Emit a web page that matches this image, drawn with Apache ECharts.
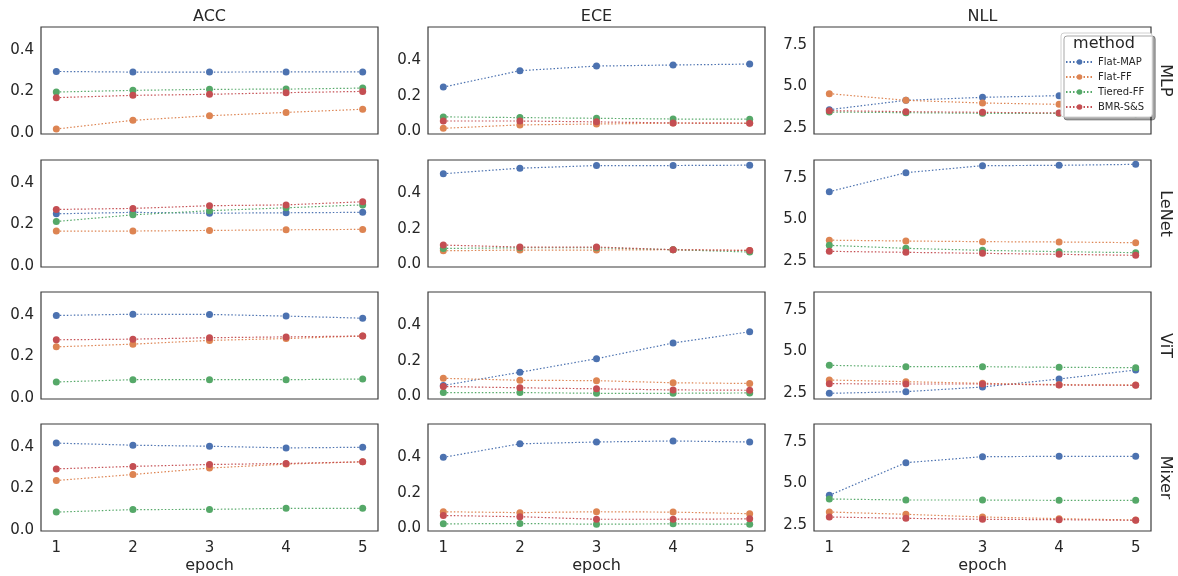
<!DOCTYPE html>
<html>
<head>
<meta charset="utf-8">
<script src="https://cdn.jsdelivr.net/npm/echarts@6/dist/echarts.min.js"></script>
<style>
html,body{margin:0;padding:0;background:#fff;}
#chart{width:1178px;height:576px;}
</style>
</head>
<body>
<div id="chart"></div>
<script>
// ---------------- data ----------------
const epochs = [1, 2, 3, 4, 5];
const methods = ['Flat-MAP', 'Flat-FF', 'Tiered-FF', 'BMR-S&S'];
const models = ['MLP', 'LeNet', 'ViT', 'Mixer'];
const metrics = ['ACC', 'ECE', 'NLL'];
const xTickLabels = [1, 2, 3, 4, 5];
const accTicks = [0.0, 0.2, 0.4];
const eceTicks = [0.0, 0.2, 0.4];
const nllTicks = [2.5, 5.0, 7.5];

// each panel: rows follow `methods` order, columns follow `epochs`
const MLP_ACC = [
  [0.296, 0.293, 0.293, 0.294, 0.294],
  [0.019, 0.061, 0.083, 0.099, 0.114],
  [0.197, 0.205, 0.210, 0.211, 0.216],
  [0.170, 0.181, 0.186, 0.194, 0.200]];
const MLP_ECE = [
  [0.248, 0.340, 0.366, 0.372, 0.377],
  [0.017, 0.036, 0.041, 0.046, 0.046],
  [0.081, 0.077, 0.073, 0.069, 0.068],
  [0.058, 0.058, 0.053, 0.047, 0.045]];
const MLP_NLL = [
  [3.60, 4.16, 4.34, 4.44, 4.50],
  [4.56, 4.16, 4.00, 3.92, 3.88],
  [3.46, 3.42, 3.38, 3.38, 3.36],
  [3.54, 3.48, 3.44, 3.40, 3.38]];
const LeNet_ACC = [
  [0.251, 0.258, 0.254, 0.256, 0.258],
  [0.168, 0.168, 0.171, 0.174, 0.176],
  [0.214, 0.246, 0.266, 0.280, 0.294],
  [0.272, 0.277, 0.290, 0.294, 0.309]];
const LeNet_ECE = [
  [0.508, 0.539, 0.554, 0.554, 0.556],
  [0.076, 0.080, 0.080, 0.082, 0.078],
  [0.089, 0.093, 0.093, 0.082, 0.069],
  [0.108, 0.097, 0.097, 0.082, 0.078]];
const LeNet_NLL = [
  [6.66, 7.80, 8.22, 8.24, 8.30],
  [3.75, 3.70, 3.66, 3.64, 3.60],
  [3.44, 3.26, 3.14, 3.06, 3.00],
  [3.08, 3.02, 2.96, 2.90, 2.84]];
const ViT_ACC = [
  [0.397, 0.403, 0.402, 0.394, 0.384],
  [0.246, 0.259, 0.277, 0.286, 0.298],
  [0.077, 0.088, 0.088, 0.088, 0.091],
  [0.280, 0.283, 0.290, 0.294, 0.298]];
const ViT_ECE = [
  [0.061, 0.135, 0.211, 0.299, 0.362],
  [0.101, 0.090, 0.088, 0.076, 0.072],
  [0.021, 0.021, 0.017, 0.017, 0.019],
  [0.055, 0.048, 0.042, 0.036, 0.034]];
const ViT_NLL = [
  [2.48, 2.58, 2.86, 3.34, 3.88],
  [3.28, 3.18, 3.08, 3.00, 2.98],
  [4.16, 4.08, 4.08, 4.04, 4.02],
  [3.06, 3.04, 3.04, 2.98, 2.96]];
const Mixer_ACC = [
  [0.418, 0.408, 0.403, 0.395, 0.398],
  [0.238, 0.267, 0.298, 0.317, 0.328],
  [0.086, 0.098, 0.099, 0.104, 0.104],
  [0.294, 0.306, 0.315, 0.320, 0.328]];
const Mixer_ECE = [
  [0.398, 0.474, 0.484, 0.490, 0.484],
  [0.093, 0.088, 0.093, 0.091, 0.082],
  [0.025, 0.027, 0.023, 0.025, 0.023],
  [0.072, 0.065, 0.051, 0.051, 0.053]];
const Mixer_NLL = [
  [4.28, 6.24, 6.60, 6.62, 6.62],
  [3.28, 3.14, 2.98, 2.88, 2.80],
  [4.06, 4.00, 4.00, 3.98, 3.98],
  [2.98, 2.90, 2.84, 2.82, 2.78]];

// ---------------- layout / style ----------------
const panels = [
  [MLP_ACC, MLP_ECE, MLP_NLL],
  [LeNet_ACC, LeNet_ECE, LeNet_NLL],
  [ViT_ACC, ViT_ECE, ViT_NLL],
  [Mixer_ACC, Mixer_ECE, Mixer_NLL]];
const tickSets = [accTicks, eceTicks, nllTicks];
// [min, max, fine interval] per metric column (matplotlib auto-margins)
const yScale = [[-0.005, 0.51, 0.005], [-0.015, 0.585, 0.005], [2.14, 8.56, 0.02]];
const colors = ['#4C72B0', '#DD8452', '#55A868', '#C44E52'];
const colLeft = [41, 428, 814];
const rowTop = [27, 160, 292, 424];
const W = 337, H = 107;
const FONT = 'DejaVu Sans';
const TXT = '#262626';

function near(v, list) {
  for (const t of list) if (Math.abs(v - t) < 1e-6) return true;
  return false;
}

const grid = [], xAxis = [], yAxis = [], series = [], title = [], graphic = [];
for (let r = 0; r < models.length; r++) {
  for (let c = 0; c < metrics.length; c++) {
    const idx = r * metrics.length + c;
    grid.push({
      left: colLeft[c], top: rowTop[r], width: W, height: H,
      show: true, borderColor: '#3b3b3b', borderWidth: 1.2, backgroundColor: '#fff'
    });
    const bottomRow = r === models.length - 1;
    xAxis.push({
      type: 'value', gridIndex: idx, min: 0.8, max: 5.2, interval: 0.2,
      axisLine: {show: false}, axisTick: {show: false}, splitLine: {show: false},
      axisLabel: {
        show: bottomRow, color: TXT, fontFamily: FONT, fontSize: 15, margin: 10,
        formatter: v => near(v, xTickLabels) ? String(Math.round(v)) : ''
      },
      name: bottomRow ? 'epoch' : '', nameLocation: 'middle', nameGap: 27,
      nameTextStyle: {color: TXT, fontFamily: FONT, fontSize: 16}
    });
    const ys = yScale[c];
    const ticks = tickSets[c];
    yAxis.push({
      type: 'value', gridIndex: idx, min: ys[0], max: ys[1], interval: ys[2],
      axisLine: {show: false}, axisTick: {show: false}, splitLine: {show: false},
      axisLabel: {
        color: TXT, fontFamily: FONT, fontSize: 15, margin: 7,
        formatter: v => near(v, ticks) ? v.toFixed(1) : ''
      }
    });
    const pdata = panels[r][c];
    for (let m = 0; m < methods.length; m++) {
      series.push({
        type: 'line', name: methods[m], xAxisIndex: idx, yAxisIndex: idx,
        data: epochs.map((e, i) => [e, pdata[m][i]]),
        symbol: 'circle', symbolSize: 7, showSymbol: true,
        itemStyle: {color: colors[m]},
        lineStyle: {color: colors[m], width: 1.2, type: [1.5, 2]},
        emphasis: {disabled: true}, silent: true, animation: false
      });
    }
  }
}

metrics.forEach((mt, c) => {
  title.push({
    text: mt, left: colLeft[c] + W / 2, top: 9, textAlign: 'center', padding: 0,
    textStyle: {color: TXT, fontFamily: FONT, fontSize: 16, fontWeight: 'normal'}
  });
});

models.forEach((md, r) => {
  graphic.push({
    type: 'text', x: 1165, y: rowTop[r] + H / 2, rotation: -Math.PI / 2,
    style: {text: md, fill: TXT, font: '16px "DejaVu Sans"', align: 'center', verticalAlign: 'middle'},
    z: 100
  });
});
graphic.push({
  type: 'text', x: 1104, y: 44, z: 200, zlevel: 0,
  style: {text: 'method', fill: TXT, font: '16px "DejaVu Sans"', align: 'center', verticalAlign: 'middle'}
});

const option = {
  animation: false,
  backgroundColor: '#fff',
  title: title,
  grid: grid,
  xAxis: xAxis,
  yAxis: yAxis,
  series: series,
  legend: {
    data: methods, orient: 'vertical', left: 1061, top: 33,
    padding: [24, 8, 5, 4], itemWidth: 27, itemHeight: 7, itemGap: 5,
    selectedMode: false, z: 50,
    backgroundColor: '#fff', borderColor: '#d0d0d0', borderWidth: 1, borderRadius: 3,
    shadowColor: 'rgba(0,0,0,0.35)', shadowOffsetX: 3, shadowOffsetY: 3, shadowBlur: 0,
    textStyle: {color: TXT, fontFamily: FONT, fontSize: 10, lineHeight: 10}
  },
  graphic: graphic
};

const chart = echarts.init(document.getElementById('chart'), null, {renderer: 'canvas'});
chart.setOption(option);
</script>
</body>
</html>
